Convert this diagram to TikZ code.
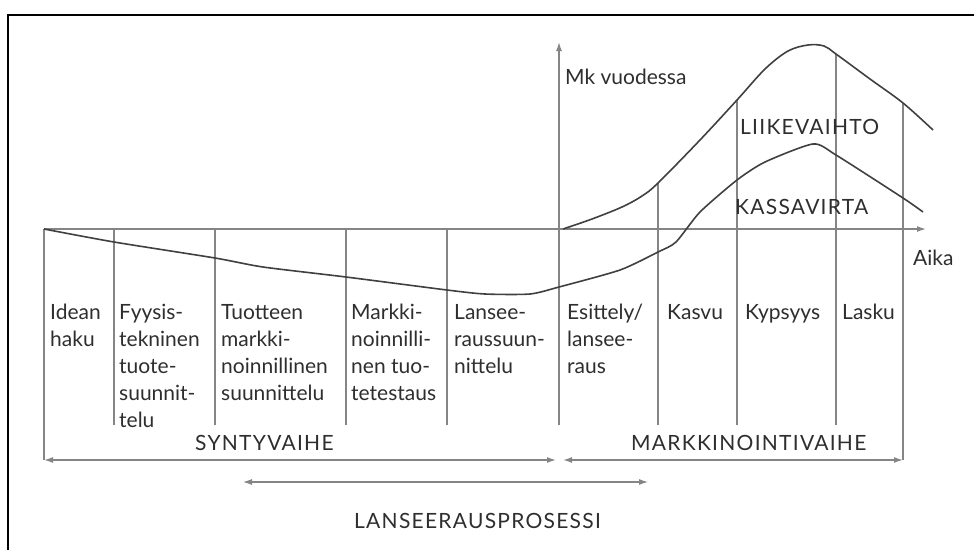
\documentclass[tikz,border=0pt]{standalone}
\usepackage{fontspec}
\setmainfont{Lato}
\newfontfamily\isot[LetterSpace=6]{Lato}
\usetikzlibrary{arrows.meta}
\definecolor{ink}{HTML}{2E2E2E}
\definecolor{viiva}{HTML}{858585}
\definecolor{kayra}{HTML}{404040}
\newcommand{\jako}[3]{\draw[jakoviiva] (#1,#2)--(#1,#3);}

\begin{document}
\begin{tikzpicture}[x=1pt,y=-1pt,
  jakoviiva/.style={viiva,line width=1.4pt},
  kayraviiva/.style={kayra,line width=1.6pt},
  vaihe/.style={anchor=north west,inner sep=0pt,align=left,text=ink,font=\fontsize{21}{27}\selectfont},
  otsikko/.style={anchor=west,inner sep=0pt,text=ink,font=\fontsize{21}{24}\selectfont},
  isotsikko/.style={otsikko,font=\fontsize{21}{24}\isot},
  nuoli/.style={viiva,line width=1.4pt,{Latex[length=9pt,width=6pt]}-{Latex[length=9pt,width=6pt]}}]
\useasboundingbox (0,0) rectangle (974,550);
% kehys
\draw[black,line width=2.5pt] (974,15)--(8,15)--(8,550);
% akselit
\draw[jakoviiva,-{Latex[length=9pt,width=6pt]}] (44,229)--(926,229);
\draw[jakoviiva,-{Latex[length=9pt,width=6pt]}] (559,425)--(559,42);
% jakoviivat
\jako{44}{229}{460}
\jako{114}{229}{425}
\jako{215}{229}{425}
\jako{346}{229}{425}
\jako{447}{229}{425}
\jako{658}{183}{425}
\jako{737}{100}{425}
\jako{836}{54}{425}
\jako{903}{103}{460}
% kayrat
\draw[kayraviiva] plot[smooth,tension=0.55] coordinates {(563,229) (592,219) (622,207) (642,196) (658,183) (700,140) (737,100) (765,69) (788,51) (808,45) (824,46) (836,54) (870,79) (903,103) (933,130)};
\draw[kayraviiva] plot[smooth,tension=0.4] coordinates {(44,229) (114,242) (215,258) (263,267) (346,277) (447,290) (485,294) (530,294) (559,287) (620,270) (658,252) (676,242) (700,212) (737,180) (765,162) (813,144) (836,155) (903,198) (923,212)};
% tekstit
\node[otsikko] (mk) at (565,77) {Mk vuodessa};
\node[isotsikko] (lv) at (740,127) {LIIKEVAIHTO};
\node[isotsikko] (kv) at (735,207) {KASSAVIRTA};
\node[otsikko] (aika) at (913,258) {Aika};
\node[vaihe] (idea) at (50,304) {Idean\\haku};
\node[vaihe] (fyys) at (119,304) {Fyysis-\\tekninen\\tuote-\\suunnit-\\telu};
\node[vaihe] (tuote) at (221,304) {Tuotteen\\markki-\\noinnillinen\\suunnittelu};
\node[vaihe] (testi) at (351,304) {Markki-\\noinnilli-\\nen tuo-\\tetestaus};
\node[vaihe] (lsuun) at (454,304) {Lansee-\\raussuun-\\nittelu};
\node[vaihe] (esit) at (567,304) {Esittely/\\lansee-\\raus};
\node[vaihe] (kasvu) at (667,304) {Kasvu};
\node[vaihe] (kyps) at (745,304) {Kypsyys};
\node[vaihe] (lasku) at (842,304) {Lasku};
% vaiheet
\coordinate (s1) at (44,460);
\coordinate (s2) at (556,460);
\coordinate (m1) at (563,460);
\coordinate (m2) at (903,460);
\coordinate (l1) at (243,482);
\coordinate (l2) at (648,482);
\draw[nuoli] (s1)--(s2);
\draw[nuoli] (m1)--(m2);
\draw[nuoli,line width=1.1pt] (l1)--(l2);
\node[isotsikko] (synty) at (195,443) {SYNTYVAIHE};
\node[isotsikko] (mark) at (631,443) {MARKKINOINTIVAIHE};
\node[isotsikko] (lans) at (354,521) {LANSEERAUSPROSESSI};
\end{tikzpicture}
\end{document}
